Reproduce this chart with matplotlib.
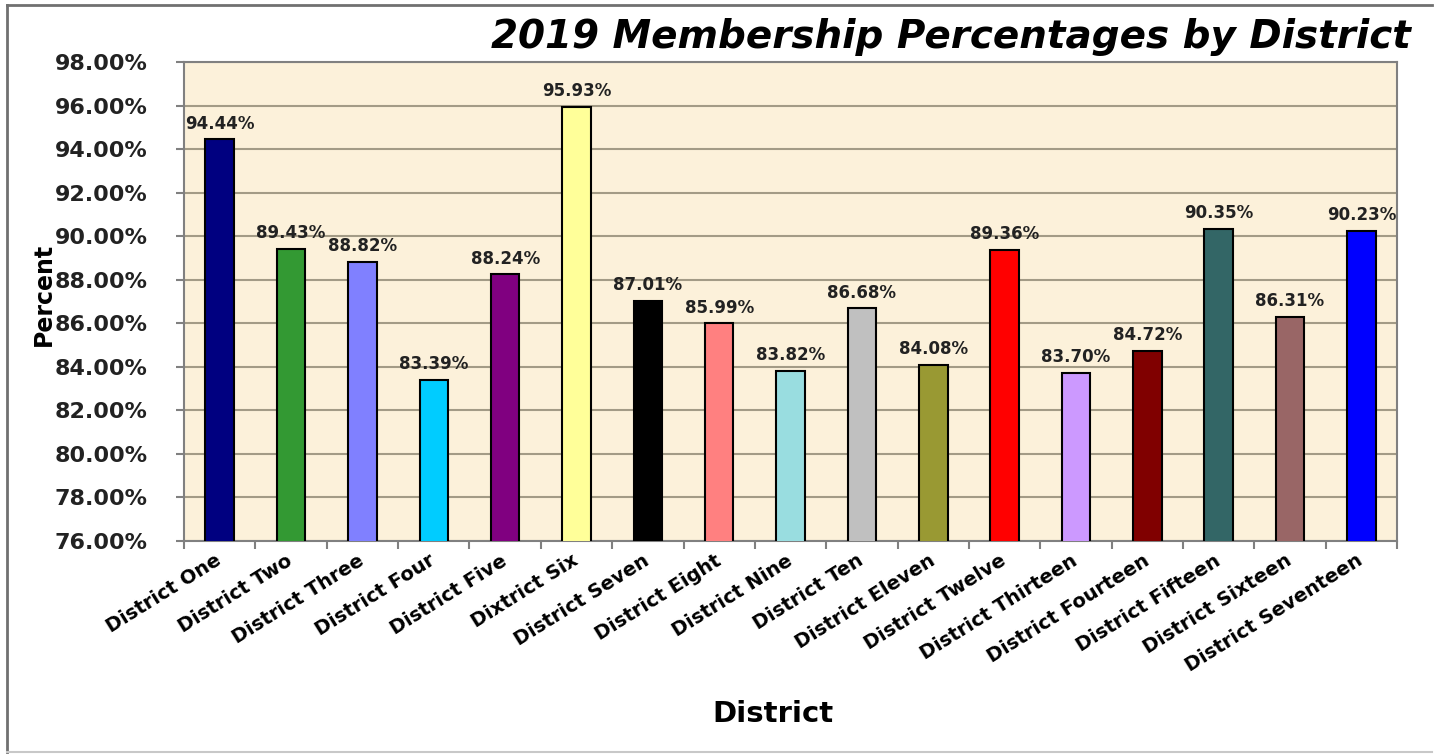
import matplotlib
matplotlib.use("Agg")
import matplotlib.pyplot as plt
from matplotlib.lines import Line2D
from matplotlib.ticker import FixedLocator, StrMethodFormatter

districts = ["District One", "District Two", "District Three", "District Four",
             "District Five", "Dixtrict Six", "District Seven", "District Eight",
             "District Nine", "District Ten", "District Eleven", "District Twelve",
             "District Thirteen", "District Fourteen", "District Fifteen",
             "District Sixteen", "District Seventeen"]
percent = [94.44, 89.43, 88.82, 83.39, 88.24, 95.93, 87.01, 85.99, 83.82,
           86.68, 84.08, 89.36, 83.70, 84.72, 90.35, 86.31, 90.23]
bar_colors = ["#000080", "#339933", "#8080FF", "#00CCFF", "#800080", "#FFFF99",
              "#000000", "#FF8080", "#99DDE0", "#C0C0C0", "#999933", "#FF0000",
              "#CC99FF", "#800000", "#336666", "#996666", "#0000FF"]

plt.rcParams["font.family"] = ["DejaVu Sans"]

fig = plt.figure(figsize=(14.38, 7.54), dpi=100)
ax = fig.add_axes([0.128, 0.2825, 0.8435, 0.6353])
ax.set_facecolor("#FCF1DA")

x = list(range(len(districts)))
bars = ax.bar(x, percent, width=0.4, color=bar_colors, edgecolor="black",
              linewidth=1.5, zorder=3)

for b, v in zip(bars, percent):
    ax.annotate(f"{v:.2f}%", (b.get_x() + b.get_width() / 2, v),
                xytext=(0, 5), textcoords="offset points",
                ha="center", va="bottom", fontsize=12, fontweight="bold",
                color="#222222", zorder=4)

ax.set_ylim(76, 98)
ax.set_xlim(-0.5, len(districts) - 0.5)
ax.set_yticks([76 + 2 * i for i in range(12)])
ax.yaxis.set_major_formatter(StrMethodFormatter("{x:.2f}%"))
ax.grid(axis="y", color="#A39B86", linewidth=1.5, zorder=1)

# ticks between categories, labels at the centres
ax.xaxis.set_major_locator(FixedLocator([i - 0.5 for i in range(len(districts) + 1)]))
ax.xaxis.set_minor_locator(FixedLocator(x))
ax.set_xticklabels([], minor=False)
ax.set_xticklabels(districts, minor=True, rotation=32, ha="right",
                   va="center", rotation_mode="anchor",
                   fontsize=14, fontweight="bold", fontstyle="normal")
ax.tick_params(axis="x", which="minor", length=0, pad=13)
ax.tick_params(axis="x", which="major", length=6, color="#808080", width=1.5)
ax.tick_params(axis="y", length=6, color="#808080", width=1.5, pad=20,
               labelsize=16)
for lab in ax.get_yticklabels():
    lab.set_fontweight("bold")
    lab.set_color("#222222")

for s in ax.spines.values():
    s.set_color("#808080")
    s.set_linewidth(1.5)

ax.set_xlabel("District", fontsize=21, fontweight="bold")
ax.xaxis.set_label_coords(0.4856, -0.332)
ax.set_ylabel("Percent", fontsize=17, fontweight="bold")
ax.yaxis.set_label_coords(-0.106, 0.5157)

fig.text(0.661, 0.951, "2019 Membership Percentages by District", ha="center",
         va="center", fontsize=28, fontweight="bold", fontstyle="italic")

# outer frame of the pasted chart
fig.add_artist(Line2D([0.005, 0.996], [0.993, 0.993], color="#707070", linewidth=2))
fig.add_artist(Line2D([0.005, 0.005], [0.003, 0.993], color="#707070", linewidth=2))
fig.add_artist(Line2D([0.005, 0.996], [0.003, 0.003], color="#C8C8C8", linewidth=1.5))

fig.savefig("out.png", dpi=100, facecolor="white")
